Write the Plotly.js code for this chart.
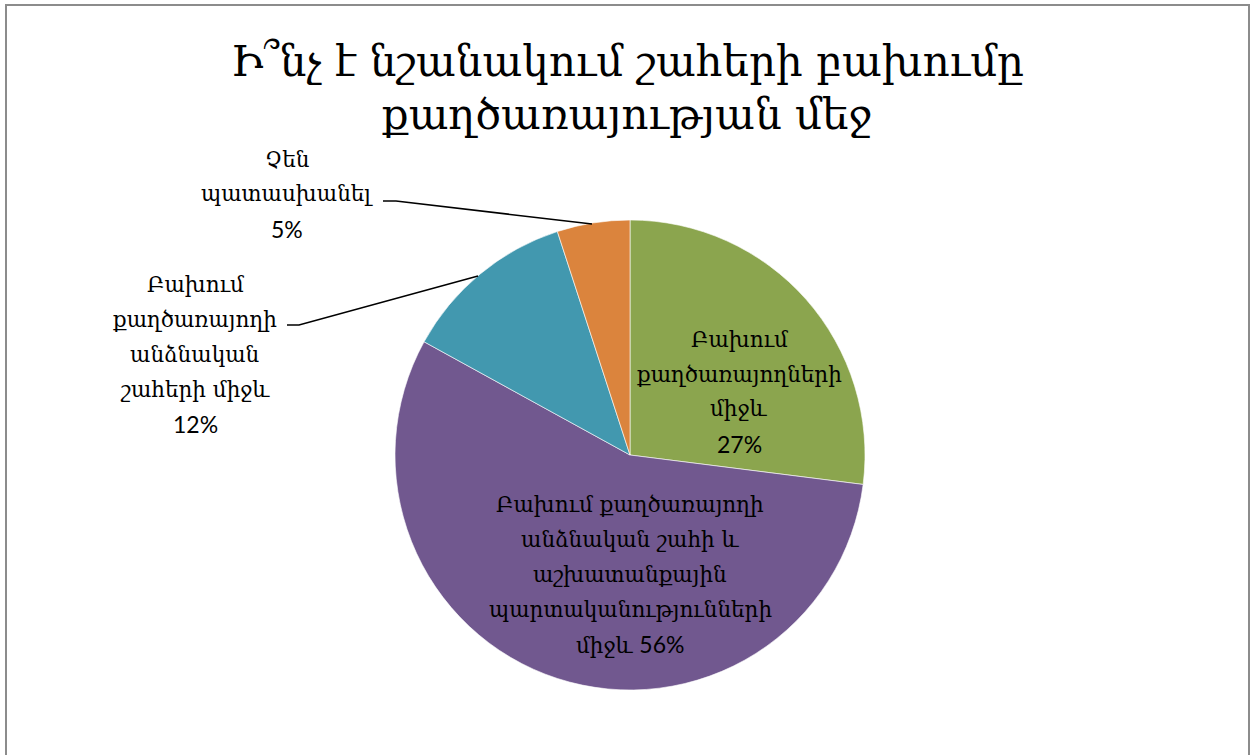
<!DOCTYPE html>
<html>
<head>
<meta charset="utf-8">
<script src="https://cdn.plot.ly/plotly-3.0.1.min.js"></script>
<style>
  html, body { margin: 0; padding: 0; background: #ffffff; }
  #wrap { position: relative; width: 1254px; height: 755px; overflow: hidden; }
  #chart { position: absolute; left: 0; top: 0; width: 1254px; height: 755px; }
  #frame { position: absolute; left: 5px; top: 4px; width: 1245px; height: 800px;
           border: 2px solid #8c8c8c; box-sizing: border-box; pointer-events: none; }
</style>
</head>
<body>
<div id="wrap">
  <div id="chart"></div>
  <div id="frame"></div>
</div>
<script>
// ---- data ----
const titleLines = ["Ի՞նչ է նշանակում շահերի բախումը", "քաղծառայության մեջ"];
const categories = [
  "Բախում քաղծառայողների միջև",
  "Բախում քաղծառայողի անձնական շահի և աշխատանքային պարտականությունների միջև",
  "Բախում քաղծառայողի անձնական շահերի միջև",
  "Չեն պատասխանել"
];
const labelLines = [
  ["Բախում", "քաղծառայողների", "միջև"],
  ["Բախում քաղծառայողի", "անձնական շահի և", "աշխատանքային", "պարտականությունների", "միջև"],
  ["Բախում", "քաղծառայողի", "անձնական", "շահերի միջև"],
  ["Չեն", "պատասխանել"]
];
const values = [27, 56, 12, 5];
const colors = ["#8ba54e", "#71588f", "#4298af", "#db843d"];

// ---- layout helpers (pixel -> paper) ----
const W = 1254, H = 755;
const px = x => x / W;
const py = y => 1 - y / H;

const armFont = "'DejaVu Serif', serif";
const numFont = "Lato, 'Open Sans', sans-serif";
const LINE = 35;

// label placement (pixels): centre x, centre y of first line, percent joins last line?
const labelPos = [
  {x: 739, y: 339, joinLast: false},
  {x: 630, y: 504, joinLast: true},
  {x: 195, y: 284, joinLast: false},
  {x: 287, y: 159, joinLast: false}
];

const pct = v => '<span style="font-family:' + numFont.replace(/'/g, "") + ';font-size:23px">' + v + "%</span>";

const annotations = [];
labelLines.forEach((lines, i) => {
  const p = labelPos[i];
  const rows = lines.slice();
  if (p.joinLast) rows[rows.length - 1] = rows[rows.length - 1] + " " + pct(values[i]);
  else rows.push(pct(values[i]));
  rows.forEach((t, k) => {
    annotations.push({
      xref: "paper", yref: "paper",
      x: px(p.x), y: py(p.y + k * LINE),
      xanchor: "center", yanchor: "middle",
      text: t, showarrow: false, align: "center",
      font: {family: armFont, size: 21.5, color: "#000000"}
    });
  });
});

// title
titleLines.forEach((t, k) => {
  annotations.push({
    xref: "paper", yref: "paper",
    x: 0.5, y: py(62 + k * 52),
    xanchor: "center", yanchor: "middle",
    text: t, showarrow: false,
    font: {family: armFont, size: 42, color: "#000000"}
  });
});

// leader lines (label -> slice)
const leaders = [
  [[287, 325], [299, 325], [478, 276]],
  [[383, 201], [396, 201], [592, 224]]
];
const shapes = leaders.map(pts => ({
  type: "path", xref: "paper", yref: "paper",
  path: pts.map((p, k) => (k ? "L" : "M") + px(p[0]) + "," + py(p[1])).join(" "),
  line: {color: "#000000", width: 1.5}
}));

const cx = 630, cy = 455, r = 235;
const trace = {
  type: "pie",
  labels: categories,
  values: values,
  sort: false,
  direction: "clockwise",
  rotation: 0,
  textinfo: "none",
  hoverinfo: "label+percent",
  marker: {colors: colors, line: {color: "rgba(255,255,255,0.6)", width: 1}},
  domain: {x: [px(cx - r), px(cx + r)], y: [py(cy + r), py(cy - r)]},
  showlegend: false
};

const layout = {
  width: W, height: H,
  margin: {l: 0, r: 0, t: 0, b: 0},
  paper_bgcolor: "rgba(0,0,0,0)",
  plot_bgcolor: "rgba(0,0,0,0)",
  annotations: annotations,
  shapes: shapes,
  showlegend: false
};

Plotly.newPlot("chart", [trace], layout, {displayModeBar: false, staticPlot: true});
</script>
</body>
</html>
